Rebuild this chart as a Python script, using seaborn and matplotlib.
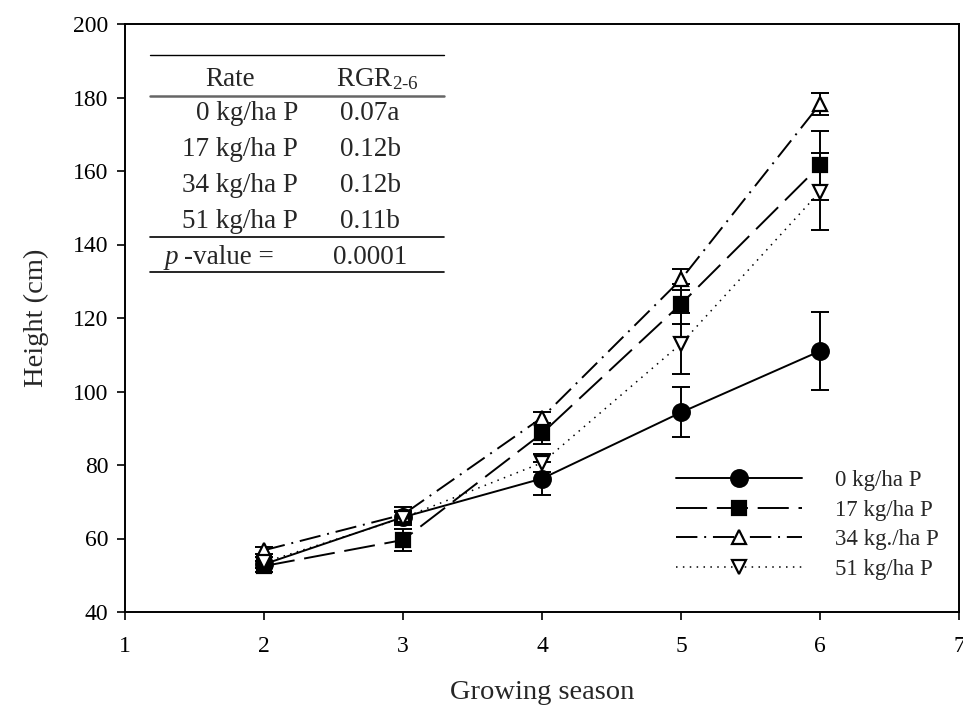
import matplotlib
matplotlib.use("Agg")
import matplotlib.pyplot as plt
import seaborn as sns
import pandas as pd

# ---- data ----
seasons = [2, 3, 4, 5, 6]
labels = ["0 kg/ha P", "17 kg/ha P", "34 kg./ha P", "51 kg/ha P"]
h0 = [53.0, 65.8, 76.3, 94.3, 111.0]
h17 = [52.5, 59.6, 88.6, 123.8, 161.5]
h34 = [56.8, 66.5, 92.9, 130.5, 178.2]
h51 = [53.5, 65.6, 80.6, 113.0, 154.4]
e0 = [1.0, 1.5, 4.5, 6.8, 10.6]
e17 = [1.5, 3.0, 2.8, 5.5, 9.3]
e34 = [1.0, 2.0, 1.5, 2.8, 3.0]
e51 = [1.5, 2.0, 2.5, 8.3, 10.5]

table_rates = ["0 kg/ha P", "17 kg/ha P", "34 kg/ha P", "51 kg/ha P"]
table_rgr = ["0.07a", "0.12b", "0.12b", "0.11b"]
p_value = "0.0001"

sns.set_style("ticks")
plt.rcParams["font.family"] = ["Liberation Serif", "DejaVu Serif"]
plt.rcParams["mathtext.fontset"] = "custom"
plt.rcParams["mathtext.rm"] = "Liberation Serif"
plt.rcParams["mathtext.it"] = "Liberation Serif:italic"

fig = plt.figure(figsize=(9.63, 7.09), dpi=100)
ax = fig.add_axes([125 / 963, 1 - 612 / 709, (959 - 125) / 963, (612 - 24) / 709])

series = [
    (h0, e0, labels[0], "o", "black", "-", 12, 1.4),
    (h17, e17, labels[1], "s", "black", (0, (16, 5)), 10, 1.4),
    (h34, e34, labels[2], "^", "white", (0, (11, 3.5, 1, 3.5)), 10, 1.4),
    (h51, e51, labels[3], "v", "white", (0, (1, 3.5)), 10, 1.1),
]

for vals, errs, lab, mk, fc, ls, ms, lw in series:
    df = pd.DataFrame({"season": seasons, "height": vals})
    ax.errorbar(seasons, vals, yerr=errs, fmt="none", ecolor="black",
                elinewidth=1.4, capsize=6.5, capthick=1.4, zorder=2)
    sns.lineplot(data=df, x="season", y="height", ax=ax, color="black",
                 marker=mk, markersize=ms, markerfacecolor=fc,
                 markeredgecolor="black", markeredgewidth=1.6,
                 linestyle=ls, linewidth=lw, label=lab, zorder=3)

ax.set_xlim(1, 7)
ax.set_ylim(40, 200)
ax.set_xticks([1, 2, 3, 4, 5, 6, 7])
ax.set_yticks(range(40, 201, 20))
ax.tick_params(axis="both", direction="out", length=6, width=1.2,
               labelsize=17, colors="black", pad=6)
ax.tick_params(axis="x", pad=11)
ax.tick_params(top=False, right=False)
for sp in ax.spines.values():
    sp.set_visible(True)
    sp.set_linewidth(1.4)
    sp.set_color("black")

ax.set_xlabel("Growing season", fontsize=20.5, labelpad=17)
ax.set_ylabel("Height (cm)", fontsize=20.5, labelpad=17)

leg = ax.legend(loc="upper left", bbox_to_anchor=((676 - 125) / 834, (612 - 470) / 588),
                frameon=False, fontsize=16.5, handlelength=5.5, numpoints=1,
                labelspacing=0.37, handletextpad=1.45, borderpad=0,
                borderaxespad=0)

# ---- inset table ----
def fx(px):
    return px / 963

def fy(py):
    return 1 - py / 709

tx0, tx1 = 150, 444
for py, lw_, col in [(55, 1.0, "black"), (96, 1.8, "#666666"), (237, 1.2, "black"), (272, 1.2, "black")]:
    fig.add_artist(plt.Line2D([fx(tx0), fx(tx1)], [fy(py), fy(py)], color=col, lw=lw_))

fs = 19.5
fig.text(fx(230), fy(79), "Rate", ha="center", va="center", fontsize=fs)
fig.text(fx(377), fy(79), r"RGR$_{\mathrm{2\text{-}6}}$", ha="center", va="center", fontsize=fs)
rows_y = [114, 150, 186, 222]
for ry, r, g in zip(rows_y, table_rates, table_rgr):
    fig.text(fx(298), fy(ry), r, ha="right", va="center", fontsize=fs)
    fig.text(fx(370), fy(ry), g, ha="center", va="center", fontsize=fs)
fig.text(fx(165), fy(257), "p", ha="left", va="center", fontsize=fs, style="italic")
fig.text(fx(184), fy(257), "-value =", ha="left", va="center", fontsize=fs)
fig.text(fx(370), fy(257), p_value, ha="center", va="center", fontsize=fs)

fig.savefig("out.png", dpi=100)
